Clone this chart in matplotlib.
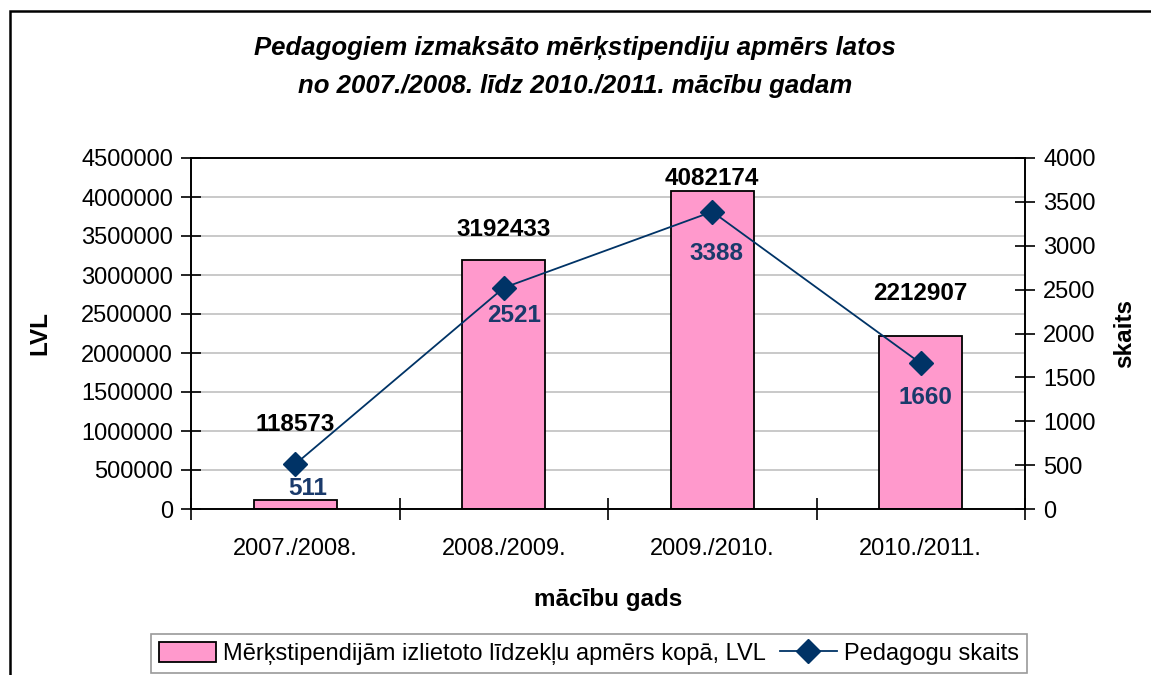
import matplotlib.pyplot as plt
from matplotlib.patches import Rectangle
from matplotlib.ticker import FuncFormatter

plt.rcParams['font.family'] = ['Liberation Sans', 'DejaVu Sans']

# data
years = ['2007./2008.', '2008./2009.', '2009./2010.', '2010./2011.']
amount_lvl = [118573, 3192433, 4082174, 2212907]
teachers = [511, 2521, 3388, 1660]

# label offsets in pixels (as placed in the original)
bar_lbl_dy = [-75, -30, -12, -43]
line_lbl_dx = [12, 10, 4, 5]
line_lbl_dy = [24, 28, 42, 34]

bar_color = '#FF99CC'
line_color = '#003366'
lbl_blue = '#1A3A6B'

fig = plt.figure(figsize=(11.51, 6.75), dpi=100)
ax = fig.add_axes([191/1151, 1 - 509/675, (1025 - 191)/1151, (509 - 158)/675])
ax2 = ax.twinx()

x = list(range(len(years)))
bars = ax.bar(x, amount_lvl, width=0.4, color=bar_color, edgecolor='black',
              linewidth=1.3, zorder=2, label='Mērķstipendijām izlietoto līdzekļu apmērs kopā, LVL')
ln, = ax2.plot(x, teachers, color=line_color, linewidth=1.3, marker='D',
               markersize=12, markerfacecolor=line_color, markeredgecolor=line_color,
               label='Pedagogu skaits', zorder=3)

ax.set_xlim(-0.5, 3.5)
ax.set_ylim(0, 4500000)
ax2.set_ylim(0, 4000)
ax.set_yticks(range(0, 4500001, 500000))
ax2.set_yticks(range(0, 4001, 500))
ax.yaxis.set_major_formatter(FuncFormatter(lambda v, p: '%d' % v))
ax.yaxis.grid(True, color='#C0C0C0', linewidth=1.2, zorder=0)
ax.set_axisbelow(True)

ax.set_xticks(x)
ax.set_xticklabels(years, fontsize=17)
ax.set_xticks([-0.5, 0.5, 1.5, 2.5, 3.5], minor=True)
ax.tick_params(axis='x', which='major', length=0, pad=21)
ax.tick_params(axis='x', which='minor', length=16, direction='inout', width=1.2)
ax.tick_params(axis='y', labelsize=17, length=14, direction='inout', width=1.2, pad=6)
ax2.tick_params(axis='y', labelsize=17, length=14, direction='inout', width=1.2, pad=6)

for a in (ax, ax2):
    for s in a.spines.values():
        s.set_linewidth(1.2)

ax.set_ylabel('LVL', fontsize=17.5, fontweight='bold')
ax.yaxis.set_label_coords(-0.167, 0.5)
ax2.set_ylabel('skaits', fontsize=17.5, fontweight='bold')
ax2.yaxis.set_label_coords(1.106, 0.5)
ax.set_xlabel('mācību gads', fontsize=17.5, fontweight='bold', labelpad=20)

for xi, v, dy in zip(x, amount_lvl, bar_lbl_dy):
    ax.annotate(str(v), (xi, v), xytext=(0, -dy), textcoords='offset pixels',
                ha='center', va='center', fontsize=17.5, fontweight='bold', color='black', zorder=5)
for xi, v, dx, dy in zip(x, teachers, line_lbl_dx, line_lbl_dy):
    ax2.annotate(str(v), (xi, v), xytext=(dx, -dy), textcoords='offset pixels',
                 ha='center', va='center', fontsize=17.5, fontweight='bold', color=lbl_blue, zorder=5)

fig.text(575/1151, 1 - 48/675, 'Pedagogiem izmaksāto mērķstipendiju apmērs latos',
         ha='center', va='center', fontsize=18.5, fontweight='bold', style='italic')
fig.text(575/1151, 1 - 86/675, 'no 2007./2008. līdz 2010./2011. mācību gadam',
         ha='center', va='center', fontsize=18.5, fontweight='bold', style='italic')

leg = fig.legend(handles=[bars, ln], loc='upper center', bbox_to_anchor=(589/1151, 1 - 634/675),
                 ncol=2, fontsize=17, frameon=True, fancybox=False, edgecolor='#808080',
                 handlelength=2.4, handleheight=0.9, handletextpad=0.3, columnspacing=0.6,
                 borderpad=0.35, borderaxespad=0)
leg.get_frame().set_linewidth(1.2)

fig.patches.append(Rectangle((10/1151, -0.1), 2, 0.1 + (675 - 11)/675, transform=fig.transFigure,
                             fill=False, edgecolor='black', linewidth=1.8))

fig.savefig('out.png', dpi=100)
